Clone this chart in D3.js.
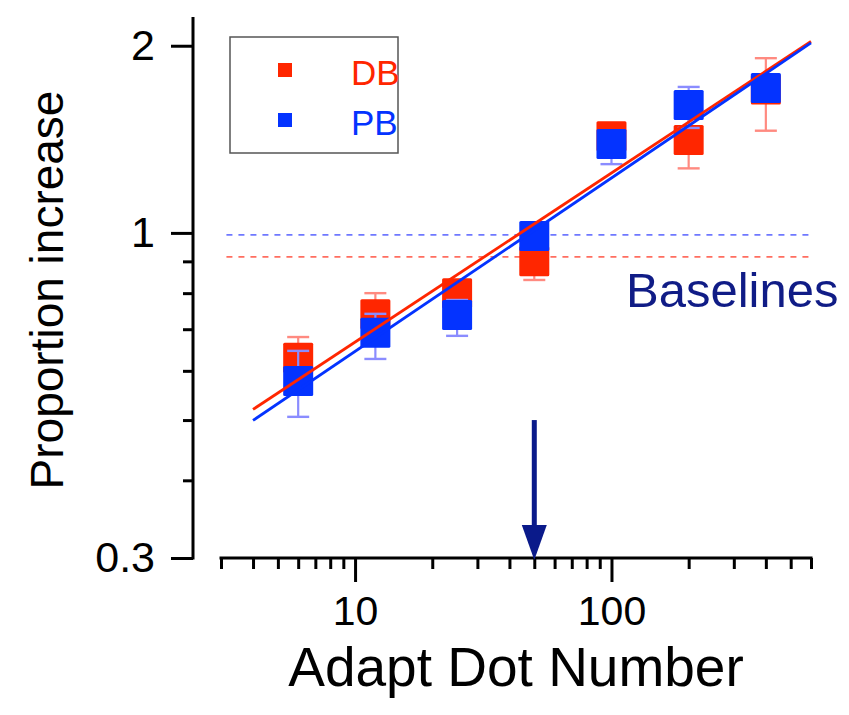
<!DOCTYPE html>
<html>
<head>
<meta charset="utf-8">
<script src="https://cdn.jsdelivr.net/npm/d3@7/dist/d3.min.js"></script>
<style>
  html, body { margin: 0; padding: 0; background: #ffffff; }
  svg { display: block; font-family: "Liberation Sans", Arial, Helvetica, sans-serif; }
</style>
</head>
<body>
<svg id="chart" width="849" height="715"></svg>
<script>
// ---------------- data ----------------
const seriesNames = ["DB", "PB"];
const seriesColors = ["#ff2600", "#0433ff"];
const errColors = ["#ff8a80", "#8a8cff"];
const baselineColors = ["#ff6e60", "#6f78ff"];

const adaptDots = [6, 12, 25, 50, 100, 200, 400];

const dbMean = [0.63, 0.74, 0.80, 0.90, 1.43, 1.41, 1.70];
const dbLow  = [0.58, 0.69, 0.75, 0.84, 1.37, 1.27, 1.46];
const dbHigh = [0.68, 0.80, 0.83, 0.95, 1.47, 1.53, 1.91];

const pbMean = [0.578, 0.691, 0.738, 0.989, 1.39, 1.606, 1.71];
const pbLow  = [0.506, 0.627, 0.683, 0.94, 1.29, 1.475, 1.64];
const pbHigh = [0.646, 0.741, 0.78, 1.04, 1.45, 1.717, 1.78];

// fitted power-law lines: log10(y) = intercept + slope * log10(x)
const fitIntercept = [-0.4476, -0.4696];
const fitSlope = [0.272, 0.279];
const fitRange = [4, 600];

// baselines
const baselineValues = [0.915, 0.993];
const baselineRange = [3.15, 600];

// arrow (marks adapt dot number 50)
const arrowX = 50;
const arrowFrom = 0.5;

const xMajorTicks = [10, 100];
const xMinorTicks = [3, 4, 5, 6, 7, 8, 9, 20, 30, 40, 50, 60, 70, 80, 90, 200, 300, 400, 500, 600];
const yMajorTicks = [0.3, 1, 2];
const yMinorTicks = [0.4, 0.5, 0.6, 0.7, 0.8, 0.9];
const xTickLabels = ["10", "100"];
const yTickLabels = ["0.3", "1", "2"];

const xTitle = "Adapt Dot Number";
const yTitle = "Proportion increase";
const baselineLabel = "Baselines";

// ---------------- chart ----------------
const svg = d3.select("#chart");
const x = d3.scaleLog().domain([3, 600]).range([221, 811]);
const y = d3.scaleLog().domain([0.3, 2.2]).range([558, 20]);
const yAxisX = 193;
const xAxisY = 558;

const series = [
  { mean: dbMean, low: dbLow, high: dbHigh },
  { mean: pbMean, low: pbLow, high: pbHigh }
];

// baselines (dashed)
baselineValues.forEach((v, i) => {
  svg.append("line")
    .attr("x1", x(baselineRange[0])).attr("x2", x(baselineRange[1]))
    .attr("y1", y(v)).attr("y2", y(v))
    .attr("stroke", baselineColors[i]).attr("stroke-width", 1.8)
    .attr("stroke-dasharray", "6,6");
});

// error bars + squares
const sq = 30, cap = 22;
series.forEach((s, i) => {
  const g = svg.append("g");
  adaptDots.forEach((d, j) => {
    const cx = x(d);
    g.append("line").attr("x1", cx).attr("x2", cx)
      .attr("y1", y(s.low[j])).attr("y2", y(s.high[j]))
      .attr("stroke", errColors[i]).attr("stroke-width", 2.2);
    [s.low[j], s.high[j]].forEach(v => {
      g.append("line").attr("x1", cx - cap / 2).attr("x2", cx + cap / 2)
        .attr("y1", y(v)).attr("y2", y(v))
        .attr("stroke", errColors[i]).attr("stroke-width", 2.4);
    });
  });
  adaptDots.forEach((d, j) => {
    g.append("rect")
      .attr("x", x(d) - sq / 2).attr("y", y(s.mean[j]) - sq / 2)
      .attr("width", sq).attr("height", sq).attr("rx", 1.5)
      .attr("fill", seriesColors[i]);
  });
});

// fitted lines
fitIntercept.forEach((a, i) => {
  const pts = fitRange.map(v => [x(v), y(Math.pow(10, a + fitSlope[i] * Math.log10(v)))]);
  svg.append("path")
    .attr("d", d3.line()(pts))
    .attr("stroke", seriesColors[i]).attr("stroke-width", 2.8).attr("fill", "none");
});

// y axis
const yMaj = svg.append("g").attr("transform", `translate(${yAxisX},0)`)
  .call(d3.axisLeft(y).tickValues(yMajorTicks).tickSize(22).tickPadding(16)
    .tickFormat((d, i) => yTickLabels[i]));
const yMin = svg.append("g").attr("transform", `translate(${yAxisX},0)`)
  .call(d3.axisLeft(y).tickValues(yMinorTicks).tickSize(10).tickFormat(""));
[yMaj, yMin].forEach(g => {
  g.select(".domain").remove();
  g.selectAll(".tick line").attr("stroke", "#000").attr("stroke-width", 3);
});
yMaj.selectAll(".tick text").attr("font-size", 43).attr("fill", "#000")
  .attr("font-family", "Liberation Sans, Arial, sans-serif");
svg.append("line").attr("x1", yAxisX).attr("x2", yAxisX)
  .attr("y1", 17).attr("y2", xAxisY + 1.5)
  .attr("stroke", "#000").attr("stroke-width", 3);

// x axis
const xMaj = svg.append("g").attr("transform", `translate(0,${xAxisY})`)
  .call(d3.axisBottom(x).tickValues(xMajorTicks).tickSize(24).tickPadding(14)
    .tickFormat((d, i) => xTickLabels[i]));
const xMin = svg.append("g").attr("transform", `translate(0,${xAxisY})`)
  .call(d3.axisBottom(x).tickValues(xMinorTicks).tickSize(11).tickFormat(""));
[xMaj, xMin].forEach(g => {
  g.select(".domain").remove();
  g.selectAll(".tick line").attr("stroke", "#000").attr("stroke-width", 3);
});
xMaj.selectAll(".tick text").attr("font-size", 41).attr("fill", "#000")
  .attr("font-family", "Liberation Sans, Arial, sans-serif");
svg.append("line").attr("x1", x(3) - 1.5).attr("x2", x(600) + 1.5)
  .attr("y1", xAxisY).attr("y2", xAxisY)
  .attr("stroke", "#000").attr("stroke-width", 3);

// arrow
const ax = x(arrowX);
const headH = 33, headW = 25;
svg.append("line").attr("x1", ax).attr("x2", ax)
  .attr("y1", y(arrowFrom)).attr("y2", xAxisY - headH + 2)
  .attr("stroke", "#0a1a8a").attr("stroke-width", 5);
svg.append("path")
  .attr("d", `M${ax - headW / 2},${xAxisY - headH} L${ax + headW / 2},${xAxisY - headH} L${ax},${xAxisY + 2} Z`)
  .attr("fill", "#0a1a8a");

// baselines label
svg.append("text").attr("x", 626).attr("y", 307)
  .attr("font-size", 49).attr("fill", "#101c86").text(baselineLabel);

// axis titles
svg.append("text").attr("x", 516).attr("y", 686).attr("text-anchor", "middle")
  .attr("font-size", 55).attr("fill", "#000").text(xTitle);
svg.append("text").attr("transform", "translate(63,290) rotate(-90)")
  .attr("text-anchor", "middle").attr("font-size", 46).attr("fill", "#000").text(yTitle);

// legend
svg.append("rect").attr("x", 230).attr("y", 37).attr("width", 168).attr("height", 116)
  .attr("fill", "#fff").attr("stroke", "#555").attr("stroke-width", 1.5);
seriesNames.forEach((n, i) => {
  const cy = 70 + i * 50;
  svg.append("rect").attr("x", 278).attr("y", cy - 7).attr("width", 14).attr("height", 14)
    .attr("fill", seriesColors[i]);
  svg.append("text").attr("x", 351).attr("y", cy + 15).attr("font-size", 35)
    .attr("fill", seriesColors[i]).text(n);
});
</script>
</body>
</html>
